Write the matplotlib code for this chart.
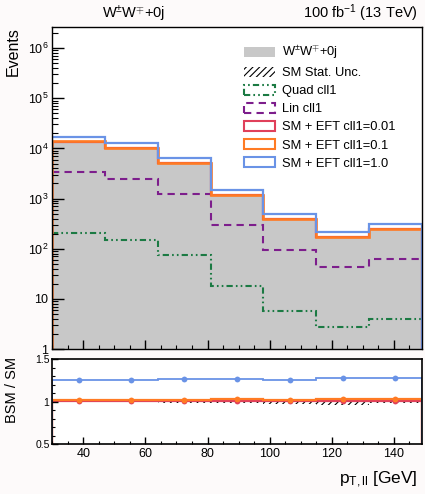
import numpy as np
import matplotlib
matplotlib.use("Agg")
import matplotlib.pyplot as plt
from matplotlib.patches import Patch
from matplotlib.ticker import FixedLocator, MultipleLocator, LogLocator, NullFormatter, FuncFormatter

plt.rcParams['font.family'] = ['Liberation Sans', 'DejaVu Sans']
plt.rcParams['mathtext.fontset'] = 'custom'
plt.rcParams['mathtext.rm'] = 'Liberation Sans'
plt.rcParams['mathtext.it'] = 'Liberation Sans'
plt.rcParams['hatch.linewidth'] = 0.8

# binning in pT,ll [GeV]
edges = [30, 47, 64, 81, 98, 115, 132, 149]

# event yields
sm = [13500, 10000, 5000, 1160, 390, 167, 241]
sm_unc = [0.004, 0.005, 0.012, 0.015, 0.03, 0.035, 0.015]   # relative stat. unc.
lin = [3320, 2440, 1250, 297, 93, 44, 62]
quad = [203, 149, 74, 18.1, 5.8, 2.7, 3.9]
bsm_001 = [13533, 10024, 5013, 1163, 391, 167.4, 241.6]
bsm_01 = [13834, 10245, 5126, 1190, 399, 171.4, 247.2]
bsm_1 = [17023, 12589, 6324, 1475, 489, 213.7, 307]

c_gray = '#c8c8c8'
c_green = '#1b7a43'
c_purple = '#7d1e8c'
c_red = '#e0405a'
c_orange = '#ff7b24'
c_blue = '#6a93e6'

W, H = 425, 494
fig = plt.figure(figsize=(W / 100, H / 100), dpi=100)
fig.patch.set_facecolor('#fdfafa')

x0, x1 = 52.3, 421.7
ax = fig.add_axes([x0 / W, 1 - 349 / H, (x1 - x0) / W, (349 - 27.3) / H])
rax = fig.add_axes([x0 / W, 1 - 444 / H, (x1 - x0) / W, (444 - 359.3) / H])

sm_a = np.array(sm)
unc_a = np.array(sm_unc)

# ---- main panel
ax.stairs(sm, edges, baseline=1e-3, fill=True, color=c_gray, lw=0)
ax.stairs(sm_a * (1 + unc_a), edges, baseline=sm_a * (1 - unc_a), fill=True,
          facecolor='none', edgecolor='black', hatch='/////', lw=0)
ax.stairs(quad, edges, baseline=None, color=c_green, lw=1.5,
          linestyle=(0, (3, 1.5, 0.8, 1.5, 0.8, 1.5)))
ax.stairs(lin, edges, baseline=None, color=c_purple, lw=1.5,
          linestyle=(0, (3.5, 2.5)))
ax.stairs(bsm_001, edges, baseline=1e-3, color=c_red, lw=1.6)
ax.stairs(bsm_01, edges, baseline=1e-3, color=c_orange, lw=1.9)
ax.stairs(bsm_1, edges, baseline=1e-3, color=c_blue, lw=1.6)

ax.set_yscale('log')
ax.set_xlim(30, 149)
ax.set_ylim(1, 2.6e6)

def logfmt(v, pos):
    if v == 1:
        return '1'
    if v == 10:
        return '10'
    return r'$10^{%d}$' % int(round(np.log10(v)))

ax.yaxis.set_major_locator(LogLocator(base=10, numticks=10))
ax.yaxis.set_minor_locator(LogLocator(base=10, subs=np.arange(2, 10), numticks=20))
ax.yaxis.set_major_formatter(FuncFormatter(logfmt))
ax.yaxis.set_minor_formatter(NullFormatter())
ax.xaxis.set_major_locator(MultipleLocator(20))
ax.xaxis.set_minor_locator(MultipleLocator(5))
ax.tick_params(axis='x', which='both', direction='in', labelbottom=False)
ax.tick_params(axis='x', which='major', length=6.5, width=1.0)
ax.tick_params(axis='x', which='minor', length=3.2, width=0.8)
ax.tick_params(axis='y', which='major', direction='in', length=8.6, width=1.0,
               labelsize=9, pad=3)
ax.tick_params(axis='y', which='minor', direction='in', length=4.3, width=0.8)
for s in ax.spines.values():
    s.set_linewidth(1.0)

ax.set_ylabel('Events', loc='top', fontsize=11.5)
ax.yaxis.set_label_coords(-0.085, 1.0)

handles = [
    Patch(facecolor=c_gray, edgecolor='none', label=r'W$^{\pm}$W$^{\mp}$+0j'),
    Patch(facecolor='none', edgecolor='black', hatch='/////', lw=0, label='SM Stat. Unc.'),
    Patch(facecolor='none', edgecolor=c_green, lw=1.5,
          linestyle=(0, (3, 1.5, 0.8, 1.5, 0.8, 1.5)), label='Quad cll1'),
    Patch(facecolor='none', edgecolor=c_purple, lw=1.5, linestyle=(0, (3.5, 2.5)),
          label='Lin cll1'),
    Patch(facecolor='none', edgecolor=c_red, lw=1.5, label='SM + EFT cll1=0.01'),
    Patch(facecolor='none', edgecolor=c_orange, lw=1.5, label='SM + EFT cll1=0.1'),
    Patch(facecolor='none', edgecolor=c_blue, lw=1.5, label='SM + EFT cll1=1.0'),
]
ax.legend(handles=handles, loc='upper left', bbox_to_anchor=(0.52, 0.949),
          frameon=False, fontsize=9.3, borderpad=0, borderaxespad=0,
          handlelength=2.4, handleheight=0.82, handletextpad=0.55,
          labelspacing=0.43)

# ---- ratio panel
centers = 0.5 * (np.array(edges[:-1]) + np.array(edges[1:]))
rax.stairs(1 + unc_a, edges, baseline=1 - unc_a, fill=True, facecolor='none',
           edgecolor='black', hatch='/////', lw=0)
for vals, col, lw in [(bsm_001, c_red, 1.6), (bsm_01, c_orange, 1.6), (bsm_1, c_blue, 1.3)]:
    ratio = np.array(vals) / sm_a
    rax.stairs(ratio, edges, baseline=0, color=col, lw=lw)
    rax.plot(centers, ratio, 'o', ms=4.2, color=col, mec='none')

rax.set_xlim(30, 149)
rax.set_ylim(0.5, 1.5)
rax.yaxis.set_major_locator(FixedLocator([0.5, 1.0, 1.5]))
rax.yaxis.set_minor_locator(MultipleLocator(0.1))
rax.yaxis.set_major_formatter(FuncFormatter(lambda v, p: '%g' % v))
rax.xaxis.set_major_locator(MultipleLocator(20))
rax.xaxis.set_minor_locator(MultipleLocator(5))
rax.tick_params(axis='both', which='both', direction='in')
rax.tick_params(axis='x', which='major', length=5, width=1.0, labelsize=9, pad=3)
rax.tick_params(axis='x', which='minor', length=2.5, width=0.8)
rax.tick_params(axis='y', which='major', length=4, width=1.0, labelsize=7.5, pad=2)
rax.tick_params(axis='y', which='minor', length=2, width=0.8)
for s in rax.spines.values():
    s.set_linewidth(1.2)

rax.set_ylabel('BSM / SM', loc='top', fontsize=10.5)
rax.yaxis.set_label_coords(-0.09, 1.03)
rax.set_xlabel(r'p$_{\mathregular{T,ll}}$ [GeV]', loc='right', fontsize=12.5)
rax.xaxis.set_label_coords(0.99, -0.3)

fig.text(134 / W, 1 - 18.5 / H, r'W$^{\pm}$W$^{\mp}$+0j', ha='center', va='baseline',
         fontsize=10.5)
fig.text(418 / W, 1 - 18.5 / H, r'100 fb$^{-1}$ (13 TeV)', ha='right', va='baseline',
         fontsize=10.5)

fig.savefig('out.png', dpi=100, facecolor=fig.get_facecolor())
